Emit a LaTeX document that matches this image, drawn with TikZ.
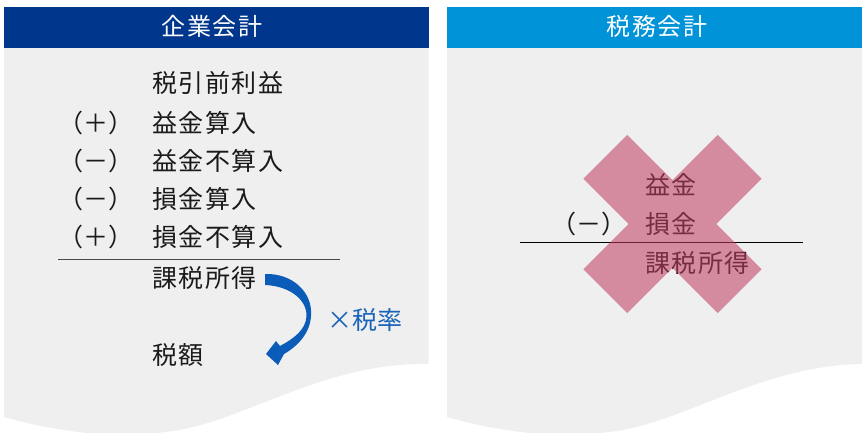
\documentclass[tikz,border=0pt]{standalone}
\usepackage{fontspec}
\setmainfont{Noto Sans CJK JP}
\newfontfamily\jpwide[LetterSpace=6]{Noto Sans CJK JP}
\definecolor{hdrL}{HTML}{00368C}
\definecolor{hdrR}{HTML}{0093D8}
\definecolor{panel}{HTML}{EFEFEF}
\definecolor{txtc}{HTML}{1A1A1A}
\definecolor{arrowc}{HTML}{0B5CB8}
\definecolor{ratec}{HTML}{1A63B8}
\definecolor{crossc}{HTML}{C03D61}
\tikzset{
  txt/.style={anchor=west, inner sep=0pt, text=txtc, font=\jpwide\fontsize{25}{28}\selectfont},
  par/.style={anchor=center, inner sep=0pt, text=txtc, font=\fontsize{25}{28}\selectfont},
  hdrtext/.style={anchor=center, inner sep=0pt, text=white, font=\jpwide\fontsize{24}{28}\selectfont},
  rule/.style={draw=txtc!80, line width=0.9pt},
}
\begin{document}
\begin{tikzpicture}[x=1pt,y=-1pt]
\useasboundingbox (0,0) rectangle (862,432);
\begin{scope}
\clip (0,0) rectangle (862,432);
% panel bodies with wavy bottoms
\fill[panel] (4,48) -- (428.5,48) -- (428.5,364)
  .. controls (320,362) and (240,425) .. (165,432)
  .. controls (110,440) and (50,430) .. (4,417) -- cycle;
\fill[panel] (447,48) -- (862,48) -- (862,364) -- (871.5,364)
  .. controls (763,362) and (683,425) .. (608,432)
  .. controls (553,440) and (493,430) .. (447,417) -- cycle;
\end{scope}
% headers
\fill[hdrL] (4,7) rectangle (428.5,48);
\fill[hdrR] (447,7) rectangle (862,48);
\node[hdrtext] (hL) at (212,26) {企業会計};
\node[hdrtext] (hR) at (657,26) {税務会計};

% left panel text
\node[txt] (pbt) at (152,83) {税引前利益};
\node[par] (s1) at (96,123) {（＋）};
\node[txt] (r1) at (152,123) {益金算入};
\node[par] (s2) at (96,161) {（－）};
\node[txt] (r2) at (152,161) {益金不算入};
\node[par] (s3) at (96,199) {（－）};
\node[txt] (r3) at (152,199) {損金算入};
\node[par] (s4) at (96,237) {（＋）};
\node[txt] (r4) at (152,237) {損金不算入};
\coordinate (l1a) at (58,259);
\coordinate (l1b) at (340,259);
\draw[rule] (l1a) -- (l1b);
\node[txt] (ti) at (152,278) {課税所得};
\node[txt] (tax) at (152,355) {税額};
\node[anchor=west, inner sep=0pt, text=ratec, font=\fontsize{25}{28}\selectfont] (rate) at (327,320) {×税率};

% curved arrow
\fill[arrowc] (265,274) .. controls (292,273) and (313,292) .. (311,316)
  .. controls (310,333) and (298,346) .. (284,354)
  -- (278,365) -- (266,354) -- (276,341) -- (280,346)
  .. controls (293,339) and (306,330) .. (306.5,316)
  .. controls (307,300) and (290,286) .. (265,285) -- cycle;

% right panel text
\node[txt] (e1) at (645,185) {益金};
\node[par] (s5) at (589,224) {（－）};
\node[txt] (e2) at (645,224) {損金};
\coordinate (l2a) at (520,242);
\coordinate (l2b) at (803,242);
\draw[draw=black, line width=0.9pt] (l2a) -- (l2b);
\node[txt] (e3) at (645,263) {課税所得};

% cross overlay
\begin{scope}[shift={(672.5,224)}, rotate=45]
\fill[crossc, opacity=0.56] (95,-31) -- (95,31) -- (31,31) -- (31,95) -- (-31,95) -- (-31,31)
  -- (-95,31) -- (-95,-31) -- (-31,-31) -- (-31,-95) -- (31,-95) -- (31,-31) -- cycle;
\end{scope}
\end{tikzpicture}
\end{document}
